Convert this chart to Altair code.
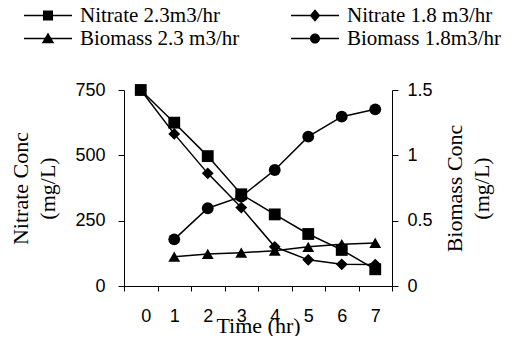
import altair as alt
import pandas as pd

# ---- data ----
time = [0, 1, 2, 3, 4, 5, 6, 7]
nitrate_23 = [750, 625, 497, 351, 274, 199, 138, 64]
nitrate_18 = [750, 582, 431, 300, 150, 100, 83, 82]
biomass_time = [1, 2, 3, 4, 5, 6, 7]
biomass_23 = [0.224, 0.245, 0.255, 0.27, 0.30, 0.32, 0.33]
biomass_18 = [0.357, 0.595, 0.684, 0.888, 1.143, 1.296, 1.352]

series = ["Nitrate 2.3m3/hr", "Nitrate 1.8 m3/hr", "Biomass 2.3 m3/hr", "Biomass 1.8m3/hr"]
x_ticks = [-0.5, 0.5, 1.5, 2.5, 3.5, 4.5, 5.5, 6.5, 7.5]

nit = pd.DataFrame(
    {"t": time + time, "v": nitrate_23 + nitrate_18,
     "s": [series[0]] * len(time) + [series[1]] * len(time)}
)
bio = pd.DataFrame(
    {"t": biomass_time + biomass_time, "v": biomass_23 + biomass_18,
     "s": [series[2]] * len(biomass_time) + [series[3]] * len(biomass_time)}
)
leg = pd.DataFrame({"s": series})

SERIF = "Liberation Serif"
SANS = "Liberation Sans"

x_enc = alt.X(
    "t:Q",
    scale=alt.Scale(domain=[-0.5, 7.5], nice=False, zero=False),
    axis=alt.Axis(
        values=x_ticks,
        labelExpr="datum.value < 7 ? format(datum.value + 0.5, 'd') : ''",
        labelOffset=16.75,
        labelPadding=16,
        tickSize=5,
        title="Time (hr)",
        titleY=46,
        titleBaseline="alphabetic",
    ),
)

nit_y = alt.Y(
    "v:Q",
    scale=alt.Scale(domain=[0, 750], nice=False),
    axis=alt.Axis(
        values=[0, 250, 500, 750],
        tickSize=6,
        labelPadding=13,
        title=["Nitrate Conc", "(mg/L)"],
        titleAngle=270,
        titleAlign="center",
        titleBaseline="alphabetic",
        titleX=-97,
        titleY=98,
        titleLineHeight=27,
    ),
)
bio_y = alt.Y(
    "v:Q",
    scale=alt.Scale(domain=[0, 1.5], nice=False),
    axis=alt.Axis(
        orient="right",
        values=[0, 0.5, 1, 1.5],
        format="~g",
        tickSize=6,
        labelPadding=9,
        title=["Biomass Conc", "(mg/L)"],
        titleAngle=270,
        titleAlign="center",
        titleBaseline="alphabetic",
        titleX=69,
        titleY=98,
        titleLineHeight=27,
    ),
)

def pair(df, y, shapes, domain):
    line = alt.Chart(df).mark_line(color="black", strokeWidth=1.5).encode(
        x=x_enc, y=y, detail="s:N"
    )
    pts = alt.Chart(df).mark_point(filled=True, color="black", opacity=1, size=140).encode(
        x=x_enc, y=y,
        shape=alt.Shape("s:N", scale=alt.Scale(domain=domain, range=shapes), legend=None),
    )
    return alt.layer(line, pts)

nit_layer = pair(nit, nit_y, ["square", "diamond"], series[:2])
bio_layer = pair(bio, bio_y, ["triangle-up", "circle"], series[2:])

# legend glyph: a thin filled bar (the line) plus the filled marker
LINE = "M-1,-0.031H1V0.031H-1Z"
legend_order = [series[0], series[2], series[1], series[3]]
legend_paths = [
    LINE + "M-0.21,-0.21H0.21V0.21H-0.21Z",
    LINE + "M0,-0.25L0.26,0.2H-0.26Z",
    LINE + "M0,-0.26L0.22,0L0,0.26L-0.22,0Z",
    LINE + "M0.21,0A0.21,0.21,0,1,1,-0.21,0A0.21,0.21,0,1,1,0.21,0Z",
]

legend_layer = alt.Chart(leg).mark_point(
    filled=True, color="black", opacity=0
).encode(
    shape=alt.Shape(
        "s:N",
        scale=alt.Scale(domain=legend_order, range=legend_paths),
        legend=alt.Legend(
            title=None,
            orient="none",
            legendX=-100,
            legendY=-86,
            columns=2,
            columnPadding=51,
            rowPadding=0,
            clipHeight=23,
            symbolSize=2304,
            symbolOpacity=1,
            symbolFillColor="black",
            symbolStrokeColor="black",
            symbolStrokeWidth=0,
            labelFont=SERIF,
            labelFontSize=21,
            labelColor="black",
            labelOffset=8,
            labelLimit=400,
            padding=0,
        ),
    )
)

chart = (
    alt.layer(nit_layer, bio_layer, legend_layer)
    .resolve_scale(y="independent", shape="independent")
    .properties(
        width=268,
        height=196,
        background="white",
        autosize=alt.AutoSizeParams(type="none"),
        padding={"left": 116, "top": 82, "right": 112, "bottom": 50},
    )
    .configure_view(stroke=None)
    .configure_axis(
        grid=False,
        domainColor="black",
        tickColor="black",
        labelColor="black",
        labelFont=SANS,
        labelFontSize=18,
        titleFont=SERIF,
        titleFontSize=22,
        titleFontWeight="normal",
        titleColor="black",
    )
)

chart.save("out.html", embed_options={"renderer": "svg", "actions": False})
